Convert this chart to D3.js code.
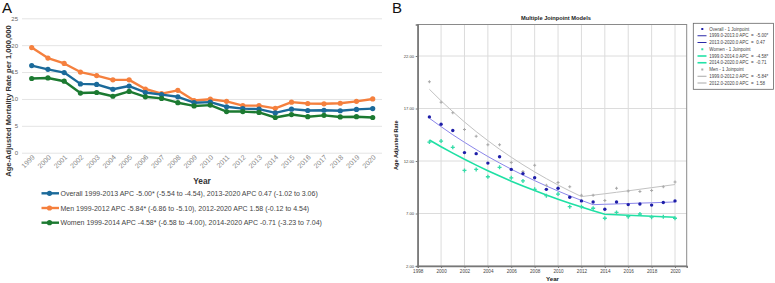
<!DOCTYPE html>
<html><head><meta charset="utf-8">
<script src="https://cdn.jsdelivr.net/npm/d3@7"></script>
<style>body{margin:0;background:#fff} svg{display:block} text{font-family:"Liberation Sans",Arial,Helvetica,sans-serif}</style>
</head><body><svg id="c" width="775" height="283"></svg>
<script>
// ---------- data ----------
const years = [1999,2000,2001,2002,2003,2004,2005,2006,2007,2008,2009,2010,2011,2012,2013,2014,2015,2016,2017,2018,2019,2020];
const overall = [16.2,15.5,14.9,12.8,12.7,11.8,12.4,11.2,10.8,10.4,9.3,9.4,8.55,8.2,8.1,7.4,8.1,7.85,7.9,7.8,8.05,8.2];
const men     = [19.55,17.6,16.6,15.0,14.35,13.55,13.55,11.85,11.0,11.6,9.7,9.95,9.55,8.75,8.75,8.25,9.4,9.15,9.1,9.2,9.55,10.0];
const women   = [13.8,13.9,13.3,11.1,11.2,10.5,11.4,10.4,10.1,9.3,8.7,8.85,7.65,7.65,7.5,6.55,7.1,6.7,6.95,6.65,6.7,6.55];
// joinpoint model fitted values (panel B)
const overallFit = [16.07,15.27,14.50,13.78,13.09,12.43,11.81,11.22,10.66,10.13,9.62,9.14,8.68,8.25,7.84,7.88,7.91,7.95,7.99,8.02,8.06,8.10];
const womenFit   = [14.00,13.36,12.75,12.16,11.61,11.08,10.57,10.08,9.62,9.18,8.76,8.36,7.98,7.61,7.26,6.93,6.88,6.83,6.78,6.74,6.69,6.64];
const menFit     = [18.83,17.73,16.70,15.72,14.80,13.94,13.12,12.36,11.64,10.96,10.32,9.71,9.15,8.61,8.75,8.88,9.02,9.16,9.31,9.46,9.61,9.76];
const yTicksA = [0,5,10,15,20,25];
const yTicksB = [2,7,12,17,22];
const xTicksB = [1998,2000,2002,2004,2006,2008,2010,2012,2014,2016,2018,2020];
const legendA = [
  "Overall 1999-2013 APC -5.00* (-5.54 to -4.54), 2013-2020 APC 0.47 (-1.02 to 3.06)",
  "Men 1999-2012 APC -5.84* (-6.86 to -5.10), 2012-2020 APC 1.58 (-0.12 to 4.54)",
  "Women 1999-2014 APC -4.58* (-6.58 to -4.00), 2014-2020 APC -0.71 (-3.23 to 7.04)"
];
const legendB = [
  "Overall - 1 Joinpoint","1999.0-2013.0 APC  =  -5.00*","2013.0-2020.0 APC  =  0.47",
  "Women - 1 Joinpoint","1999.0-2014.0 APC  =  -4.58*","2014.0-2020.0 APC  =  -0.71",
  "Men - 1 Joinpoint","1999.0-2012.0 APC  =  -5.84*","2012.0-2020.0 APC  =  1.58"
];

const svg = d3.select("#c");
const colA = {overall:"#1b6a9a", men:"#f5803e", women:"#1c7a31"};

// ---------- Panel A ----------
const gA = svg.append("g");
const xA = d3.scaleLinear().domain([1999,2020]).range([31.7,372.7]);
const yA = d3.scaleLinear().domain([0,25]).range([152.7,18.3]);

gA.append("text").attr("x",2).attr("y",13).attr("font-size",15).attr("fill","#111").text("A");

const gyA = gA.append("g").attr("transform","translate(22,0)")
  .call(d3.axisLeft(yA).tickValues(yTicksA).tickSize(-360).tickPadding(4));
gyA.select(".domain").remove();
gyA.selectAll("line").attr("stroke","#e4e4e4");
gyA.selectAll("text").attr("font-size",6).attr("fill","#666").attr("font-family","Liberation Sans, Arial, sans-serif");

const gxA = gA.append("g").attr("transform","translate(0,152.7)")
  .call(d3.axisBottom(xA).tickValues(years).tickFormat(d3.format("d")).tickSize(0));
gxA.select(".domain").remove();
gxA.selectAll("text").attr("font-size",7).attr("fill","#888")
  .attr("font-family","Liberation Sans, Arial, sans-serif")
  .attr("text-anchor","end").attr("dy",null).attr("y",0)
  .attr("transform","translate(3,5) rotate(-45)");

gA.append("text").attr("x",202).attr("y",183.5).attr("text-anchor","middle")
  .attr("font-size",8.3).attr("font-weight","bold").attr("fill","#333").text("Year");
gA.append("text").attr("transform","translate(10.5,101) rotate(-90)").attr("text-anchor","middle")
  .attr("font-size",7.6).attr("font-weight","bold").attr("fill","#333")
  .text("Age-Adjusted Mortality Rate per 1,000,000");

const seriesA = [
  {key:"men", vals:men},
  {key:"overall", vals:overall},
  {key:"women", vals:women}
];
const lineA = d3.line().x((d,i)=>xA(years[i])).y(d=>yA(d));
seriesA.forEach(s=>{
  gA.append("path").datum(s.vals).attr("d",lineA).attr("fill","none")
    .attr("stroke",colA[s.key]).attr("stroke-width",2.4).attr("stroke-linejoin","round");
  gA.selectAll(null).data(s.vals).enter().append("circle")
    .attr("cx",(d,i)=>xA(years[i])).attr("cy",d=>yA(d)).attr("r",2.6).attr("fill",colA[s.key]);
});

const legKeys = ["overall","men","women"];
legendA.forEach((t,i)=>{
  const y = 193.3 + i*14.7;
  gA.append("line").attr("x1",41.5).attr("x2",59).attr("y1",y).attr("y2",y)
    .attr("stroke",colA[legKeys[i]]).attr("stroke-width",2.4);
  gA.append("circle").attr("cx",49.5).attr("cy",y).attr("r",2.6).attr("fill",colA[legKeys[i]]);
  gA.append("text").attr("x",60.5).attr("y",y+2.5).attr("font-size",7).attr("fill","#444").text(t);
});

// ---------- Panel B ----------
const gB = svg.append("g");
const xB = d3.scaleLinear().domain([1998,2021]).range([417.7,686.7]);
const yB = d3.scaleLinear().domain([2,25]).range([266,24.5]);

gB.append("text").attr("x",392).attr("y",13).attr("font-size",15).attr("fill","#111").text("B");
gB.append("text").attr("x",556).attr("y",20).attr("text-anchor","middle")
  .attr("font-size",5.7).attr("font-weight","bold").attr("fill","#222").text("Multiple Joinpoint Models");

// grid
gB.append("g").selectAll("line").data(xTicksB.filter(d=>d>1998)).enter().append("line")
  .attr("x1",d=>xB(d)).attr("x2",d=>xB(d)).attr("y1",yB(25)).attr("y2",yB(2))
  .attr("stroke","#dcdcdc").attr("stroke-width",1);
gB.append("g").selectAll("line").data(yTicksB.filter(d=>d>2)).enter().append("line")
  .attr("x1",xB(1998)).attr("x2",xB(2021)).attr("y1",d=>yB(d)).attr("y2",d=>yB(d))
  .attr("stroke","#dcdcdc").attr("stroke-width",1);
// frame
gB.append("rect").attr("x",xB(1998)).attr("y",yB(25)).attr("width",xB(2021)-xB(1998))
  .attr("height",yB(2)-yB(25)).attr("fill","none").attr("stroke","#8a8a8a").attr("stroke-width",1);

const gyB = gB.append("g").attr("transform",`translate(${xB(1998)},0)`)
  .call(d3.axisLeft(yB).tickValues(yTicksB).tickFormat(d3.format(".2f")).tickSize(2).tickPadding(1.5));
gyB.select(".domain").attr("stroke","#777").attr("stroke-width",1.5);
gyB.selectAll("line").attr("stroke","#777");
gyB.selectAll("text").attr("font-size",4.2).attr("fill","#444").attr("font-family","Liberation Sans, Arial, sans-serif");

const gxB = gB.append("g").attr("transform",`translate(0,${yB(2)})`)
  .call(d3.axisBottom(xB).tickValues(xTicksB).tickFormat(d3.format("d")).tickSize(2).tickPadding(1.5));
gxB.select(".domain").attr("stroke","#777").attr("stroke-width",1.5);
gxB.selectAll("line").attr("stroke","#777");
gxB.selectAll("text").attr("font-size",4.6).attr("fill","#444").attr("font-family","Liberation Sans, Arial, sans-serif");

gB.append("text").attr("x",552.5).attr("y",281).attr("text-anchor","middle")
  .attr("font-size",6.2).attr("font-weight","bold").attr("fill","#222").text("Year");
gB.append("text").attr("transform",`translate(398,${(yB(25)+yB(2))/2}) rotate(-90)`).attr("text-anchor","middle")
  .attr("font-size",5.6).attr("font-weight","bold").attr("fill","#222").text("Age Adjusted Rate");

const lineB = d3.line().x((d,i)=>xB(years[i])).y(d=>yB(d));
gB.append("path").datum(menFit).attr("d",lineB).attr("fill","none").attr("stroke","#c2c2c2").attr("stroke-width",1);
gB.append("path").datum(overallFit).attr("d",lineB).attr("fill","none").attr("stroke","#8b86ea").attr("stroke-width",1);
gB.append("path").datum(womenFit).attr("d",lineB).attr("fill","none").attr("stroke","#1fe0a4").attr("stroke-width",1.6);

const cross = d3.symbol().type(d3.symbolCross);
gB.selectAll(null).data(men).enter().append("path")
  .attr("transform",(d,i)=>`translate(${xB(years[i])},${yB(d)})`)
  .attr("d",cross.size(5)()).attr("fill","#a8a8a8");
gB.selectAll(null).data(women).enter().append("path")
  .attr("transform",(d,i)=>`translate(${xB(years[i])},${yB(d)})`)
  .attr("d",cross.size(9)()).attr("fill","#35dca8");
gB.selectAll(null).data(overall).enter().append("circle")
  .attr("cx",(d,i)=>xB(years[i])).attr("cy",d=>yB(d)).attr("r",1.7).attr("fill","#1e1ea8");

// legend B
gB.append("rect").attr("x",693.3).attr("y",23.3).attr("width",80.2).attr("height",66)
  .attr("fill","#fff").attr("stroke","#666").attr("stroke-width",0.8);
const legStyle = [
  {t:"dot",c:"#1e1ea8"},{t:"line",c:"#2a2aa8",w:1},{t:"line",c:"#2a2aa8",w:1},
  {t:"dot",c:"#35dca8"},{t:"line",c:"#22e2a6",w:1.6},{t:"line",c:"#22e2a6",w:1.6},
  {t:"dot",c:"#aaaaaa"},{t:"line",c:"#a8a8a8",w:1},{t:"line",c:"#a8a8a8",w:1}
];
legendB.forEach((t,i)=>{
  const y = 29 + i*6.75;
  const s = legStyle[i];
  if(s.t==="dot"){
    gB.append("rect").attr("x",701.3).attr("y",y-1).attr("width",2).attr("height",2).attr("fill",s.c);
  } else {
    gB.append("line").attr("x1",697.5).attr("x2",706.5).attr("y1",y).attr("y2",y)
      .attr("stroke",s.c).attr("stroke-width",s.w);
  }
  gB.append("text").attr("x",709.3).attr("y",y+1.6).attr("font-size",4.5).attr("fill","#444")
    .attr("xml:space","preserve").style("white-space","pre").text(t);
});
</script></body></html>
